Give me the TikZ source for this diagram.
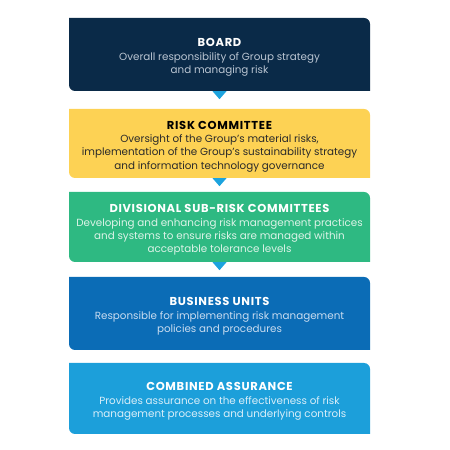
\documentclass[tikz,border=0pt]{standalone}
\usepackage{fontspec}
\setmainfont{Poppins}
\newfontfamily\titlefam[LetterSpace=6]{Poppins}
\definecolor{navy}{HTML}{0A2A48}
\definecolor{sun}{HTML}{FDD254}
\definecolor{leaf}{HTML}{2EB982}
\definecolor{ocean}{HTML}{0B6CB6}
\definecolor{sky}{HTML}{1C9FDA}
\definecolor{tri}{HTML}{1CA3DE}
\definecolor{navytxt}{HTML}{BAC5D2}
\definecolor{suntxt}{HTML}{2A2A2A}
\definecolor{leaftxt}{HTML}{DDF3E8}
\definecolor{oceantxt}{HTML}{C9DCF0}
\definecolor{skytxt}{HTML}{D9EEF9}
\newcommand{\paneltitle}[1]{{\titlefam\fontsize{11.5}{13.3}\selectfont\bfseries\rule{0pt}{14pt}#1}}
\tikzset{
  panel/.style n args={2}{minimum width=301pt, minimum height=#1, inner sep=0pt,
    align=center, font=\fontsize{10.35}{13.3}\selectfont,
    path picture={\fill[#2] (path picture bounding box.north west)
      -- ([xshift=-6pt]path picture bounding box.north east)
      arc[start angle=90,end angle=0,radius=6pt]
      -- (path picture bounding box.south east)
      -- ([xshift=6pt]path picture bounding box.south west)
      arc[start angle=270,end angle=180,radius=6pt] -- cycle;}},
  pointer/.style={fill=tri}
}
\begin{document}
\begin{tikzpicture}[x=1pt,y=1pt]
\useasboundingbox (0,0) rectangle (450,450);
\node[panel={73pt}{navy}, text=navytxt] (board) at (219.5,395.5)
  {\textcolor{white}{\paneltitle{BOARD}}\\Overall responsibility of Group strategy\\and managing risk};
\node[panel={69pt}{sun}, text=suntxt] (risk) at (219.5,306.5)
  {\textcolor{black}{\paneltitle{RISK COMMITTEE}}\\Oversight of the Group’s material risks,\\implementation of the Group’s sustainability strategy\\and information technology governance};
\node[panel={70pt}{leaf}, text=leaftxt] (div) at (219.5,223)
  {\textcolor{white}{\paneltitle{DIVISIONAL SUB-RISK COMMITTEES}}\\Developing and enhancing risk management practices\\and systems to ensure risks are managed within\\acceptable tolerance levels};
\node[panel={73pt}{ocean}, text=oceantxt] (bu) at (219.5,136.5)
  {\textcolor{white}{\paneltitle{BUSINESS UNITS}}\\Responsible for implementing risk management\\policies and procedures};
\node[panel={71pt}{sky}, text=skytxt] (ca) at (219.5,51.5)
  {\textcolor{white}{\paneltitle{COMBINED ASSURANCE}}\\Provides assurance on the effectiveness of risk\\management processes and underlying controls};
\foreach \n in {board,risk,div}
  \fill[pointer] ([xshift=-7pt]\n.south) -- ([xshift=7pt]\n.south) -- ([yshift=-8pt]\n.south) -- cycle;
\end{tikzpicture}
\end{document}
